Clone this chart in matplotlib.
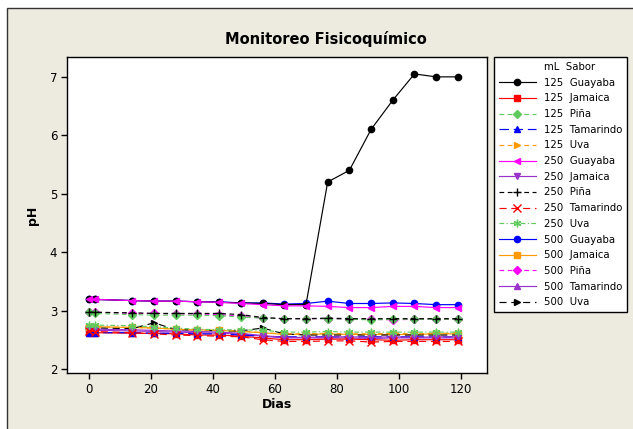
import matplotlib.pyplot as plt
from matplotlib.patches import Rectangle
from matplotlib.lines import Line2D

# dias de monitoreo
dias = [0, 2, 14, 21, 28, 35, 42, 49, 56, 63, 70, 77, 84, 91, 98, 105, 112, 119]

# pH por volumen (mL) y sabor
guayaba_125 = [3.19, 3.19, 3.17, 3.16, 3.16, 3.15, 3.14, 3.13, 3.12, 3.10, 3.10, 5.20, 5.40, 6.10, 6.60, 7.05, 7.00, 7.00]
jamaica_125 = [2.62, 2.62, 2.61, 2.61, 2.60, 2.58, 2.58, 2.56, 2.53, 2.50, 2.50, 2.51, 2.51, 2.50, 2.49, 2.50, 2.50, 2.50]
pina_125 = [2.97, 2.95, 2.93, 2.92, 2.92, 2.92, 2.91, 2.89, 2.87, 2.86, 2.86, 2.86, 2.85, 2.84, 2.85, 2.85, 2.85, 2.85]
tamarindo_125 = [2.62, 2.62, 2.62, 2.61, 2.61, 2.60, 2.60, 2.58, 2.56, 2.55, 2.55, 2.55, 2.55, 2.55, 2.55, 2.55, 2.55, 2.55]
uva_125 = [2.72, 2.72, 2.71, 2.70, 2.68, 2.66, 2.66, 2.65, 2.62, 2.60, 2.60, 2.61, 2.60, 2.60, 2.61, 2.60, 2.61, 2.61]
guayaba_250 = [3.19, 3.19, 3.17, 3.16, 3.16, 3.15, 3.14, 3.12, 3.10, 3.08, 3.08, 3.07, 3.05, 3.05, 3.07, 3.07, 3.05, 3.05]
jamaica_250 = [2.68, 2.68, 2.67, 2.66, 2.65, 2.64, 2.63, 2.61, 2.57, 2.54, 2.54, 2.55, 2.55, 2.54, 2.55, 2.54, 2.55, 2.55]
pina_250 = [2.97, 2.97, 2.96, 2.95, 2.95, 2.95, 2.95, 2.93, 2.88, 2.86, 2.86, 2.87, 2.86, 2.86, 2.86, 2.86, 2.86, 2.86]
tamarindo_250 = [2.65, 2.64, 2.62, 2.60, 2.58, 2.57, 2.56, 2.55, 2.50, 2.47, 2.47, 2.48, 2.48, 2.46, 2.47, 2.47, 2.47, 2.47]
uva_250 = [2.75, 2.75, 2.74, 2.72, 2.70, 2.68, 2.67, 2.67, 2.66, 2.63, 2.63, 2.64, 2.63, 2.63, 2.63, 2.63, 2.63, 2.63]
guayaba_500 = [3.19, 3.19, 3.17, 3.16, 3.16, 3.15, 3.15, 3.13, 3.13, 3.11, 3.12, 3.16, 3.12, 3.12, 3.13, 3.12, 3.10, 3.10]
jamaica_500 = [2.72, 2.72, 2.71, 2.70, 2.68, 2.67, 2.66, 2.64, 2.62, 2.59, 2.59, 2.60, 2.59, 2.59, 2.59, 2.59, 2.60, 2.60]
pina_500 = [2.97, 2.97, 2.95, 2.95, 2.94, 2.94, 2.93, 2.90, 2.87, 2.86, 2.86, 2.86, 2.85, 2.85, 2.84, 2.85, 2.85, 2.85]
tamarindo_500 = [2.66, 2.66, 2.65, 2.64, 2.63, 2.62, 2.61, 2.60, 2.56, 2.53, 2.53, 2.53, 2.53, 2.52, 2.53, 2.53, 2.53, 2.53]
uva_500 = [2.70, 2.70, 2.69, 2.79, 2.67, 2.66, 2.65, 2.65, 2.70, 2.60, 2.58, 2.58, 2.58, 2.58, 2.58, 2.58, 2.58, 2.58]

etiquetas = ["125  Guayaba", "125  Jamaica", "125  Piña", "125  Tamarindo", "125  Uva",
             "250  Guayaba", "250  Jamaica", "250  Piña", "250  Tamarindo", "250  Uva",
             "500  Guayaba", "500  Jamaica", "500  Piña", "500  Tamarindo", "500  Uva"]
series = [guayaba_125, jamaica_125, pina_125, tamarindo_125, uva_125,
          guayaba_250, jamaica_250, pina_250, tamarindo_250, uva_250,
          guayaba_500, jamaica_500, pina_500, tamarindo_500, uva_500]

# estilos tipo Minitab
colores = ["black", "#FF0000", "#5FCB5F", "#0000FF", "#FF9900",
           "#FF00FF", "#9933CC", "black", "#FF0000", "#5FCB5F",
           "#0000FF", "#FF9900", "#FF00FF", "#9933CC", "black"]
marcas = ["o", "s", "D", "^", ">", "<", "v", "+", "x", (6, 2, 0), "o", "s", "D", "^", ">"]
lineas = ["-", "-", (0, (4, 3)), (0, (8, 4)), (0, (4, 3)),
          "-", "-", (0, (4, 3)), (0, (6, 4)), (0, (4, 2, 1, 2)),
          "-", "-", (0, (4, 3)), "-", (0, (6, 4))]
# orden de dibujo: 500 abajo, 125 en medio, 250 arriba
capas = [3, 3, 3, 3, 3, 4, 4, 4, 4, 4, 2, 2, 2, 2, 2]

plt.rcParams['font.family'] = ['DejaVu Sans']

fig = plt.figure(figsize=(6.33, 4.29), dpi=100, facecolor="white")
# fondo beige del grafico de Minitab
fondo = Rectangle((7 / 633, -0.01), 1.0, (429 - 8) / 429 + 0.01,
                  transform=fig.transFigure, facecolor="#EDEAE0",
                  edgecolor="#333333", linewidth=1.0, zorder=-10)
fig.patches.append(fondo)

ax = fig.add_axes([67 / 633, (429 - 373) / 429, 420 / 633, 316 / 429])
ax.set_facecolor("white")

for i in range(len(series)):
    m = marcas[i]
    if m in ("+", "x", (6, 2, 0)):
        ms = 5.5
    elif m == "D":
        ms = 4
    else:
        ms = 4.5
    ax.plot(dias, series[i], color=colores[i], marker=m, linestyle=lineas[i],
            linewidth=0.85, markersize=ms, markeredgewidth=1.0,
            label=etiquetas[i], zorder=capas[i])

ax.set_xlim(-7.1, 128.4)
ax.set_ylim(1.93, 7.34)
ax.set_xticks([0, 20, 40, 60, 80, 100, 120])
ax.set_yticks([2, 3, 4, 5, 6, 7])
ax.tick_params(axis="both", labelsize=8.5, length=4, width=1, direction="out", pad=3)
for s in ax.spines.values():
    s.set_linewidth(1.0)

ax.set_xlabel("Dias", fontsize=9, fontweight="bold", labelpad=2)
ax.set_ylabel("pH", fontsize=9, fontweight="bold", labelpad=8)
fig.text(0.515, (429 - 39) / 429, "Monitoreo Fisicoquímico", fontsize=10.5,
         fontweight="bold", ha="center", va="center")

# leyenda con encabezado mL / Sabor
encabezado = Line2D([], [], linestyle="none", marker="none")
handles, labels = ax.get_legend_handles_labels()
leg = fig.legend([encabezado] + handles, ["mL  Sabor"] + labels,
                 loc="upper left", bbox_to_anchor=(494 / 633, (429 - 57) / 429),
                 fontsize=7.3, frameon=True, fancybox=False, framealpha=1,
                 edgecolor="black", handlelength=3.6, handletextpad=0.8,
                 labelspacing=0.56, borderpad=0.5, borderaxespad=0)
leg.get_frame().set_linewidth(1.0)

fig.savefig("out.png", dpi=100, facecolor=fig.get_facecolor())
